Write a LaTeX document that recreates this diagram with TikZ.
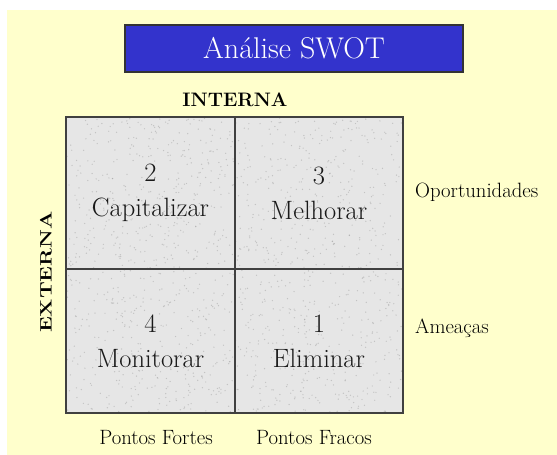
\documentclass[tikz,border=0pt]{standalone}
\usepackage{fontspec}
\definecolor{bgyellow}{RGB}{255,255,204}
\definecolor{titleblue}{RGB}{51,51,204}
\definecolor{cellgray}{RGB}{230,230,230}
\definecolor{inktext}{RGB}{25,25,25}
\begin{document}
\begin{tikzpicture}[x=1pt,y=-1pt,
  titlebox/.style={draw=black!80, line width=1.2pt, fill=titleblue, text=white,
    minimum width=338pt, minimum height=47pt, inner sep=0pt,
    font=\fontsize{30}{34}\selectfont},
  cell/.style={draw=black!75, line width=1.6pt, text=inktext,
    inner sep=0pt, align=center, font=\fontsize{26.5}{35}\selectfont},
  speckle/.style={fill=black!40, opacity=0.45},
  axislabel/.style={text=black, inner sep=0pt, font=\bfseries\fontsize{19.5}{22}\selectfont},
  sidelabel/.style={text=black, inner sep=0pt, font=\fontsize{20.7}{24}\selectfont}
]
\useasboundingbox (0,0) rectangle (557,455);
\fill[white] (0,0) rectangle (557,455);
\fill[bgyellow] (7,10) rectangle (557,455);

\node[titlebox] (title) at (294,48.5) {Análise SWOT};

% textured cell background
\fill[cellgray] (66,117) rectangle (403,413);
\pgfmathsetseed{7}
\foreach \i in {1,...,1400}{
  \fill[speckle] ({67+335*rnd},{118+294*rnd}) circle (0.7pt);
}

\node[cell, minimum width=169pt, minimum height=152pt] (c2) at (150.5,193) {2\\Capitalizar};
\node[cell, minimum width=168pt, minimum height=152pt] (c3) at (319,193) {3\\Melhorar};
\node[cell, minimum width=169pt, minimum height=144pt] (c4) at (150.5,341) {4\\Monitorar};
\node[cell, minimum width=168pt, minimum height=144pt] (c1) at (319,341) {1\\Eliminar};

\node[axislabel] (interna) at (235,100) {INTERNA};
\node[axislabel, rotate=90] (externa) at (46,272) {\scalebox{1.1}[0.85]{EXTERNA}};

\node[sidelabel, anchor=west] (oport) at (415,192) {Oportunidades};
\node[sidelabel, anchor=west] (ameac) at (415,328) {Ameaças};
\node[sidelabel] (fortes) at (156,438) {Pontos Fortes};
\node[sidelabel] (fracos) at (314,438) {Pontos Fracos};
\end{tikzpicture}
\end{document}
